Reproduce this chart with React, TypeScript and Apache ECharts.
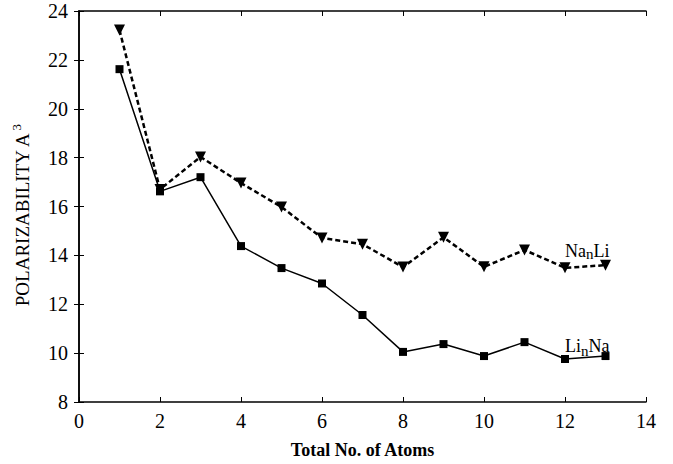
import React, { useEffect, useRef } from "react";
import * as echarts from "echarts";

const atoms = [1, 2, 3, 4, 5, 6, 7, 8, 9, 10, 11, 12, 13];
const naNLi = [23.22, 16.7, 18.03, 16.96, 15.98, 14.71, 14.46, 13.52, 14.74, 13.53, 14.22, 13.49, 13.6];
const liNNa = [21.62, 16.62, 17.2, 14.38, 13.48, 12.85, 11.56, 10.05, 10.37, 9.88, 10.45, 9.76, 9.88];
const xTicks = { min: 0, max: 14, interval: 2 };
const yTicks = { min: 8, max: 24, interval: 2 };

const FONT = "Liberation Serif";

export default function App() {
  const ref = useRef<HTMLDivElement>(null);
  useEffect(() => {
    document.body.style.margin = "0";
    const chart = echarts.init(ref.current!, null, { renderer: "svg" });
    const axisLine = { show: true, lineStyle: { color: "#000", width: 1.5 } };
    const tick = { show: true, inside: true, length: 5, lineStyle: { color: "#000", width: 1 } };
    chart.setOption({
      animation: false,
      backgroundColor: "#fff",
      grid: { left: 79, right: 27, top: 11, bottom: 62, containLabel: false },
      xAxis: [
        {
          type: "value",
          ...xTicks,
          position: "bottom",
          axisLine,
          axisTick: tick,
          splitLine: { show: false },
          axisLabel: { color: "#000", fontFamily: FONT, fontSize: 20, margin: 9 },
          name: "Total No. of Atoms",
          nameLocation: "middle",
          nameGap: 39,
          nameTextStyle: { color: "#000", fontFamily: FONT, fontSize: 18, fontWeight: "bold" },
        },
        {
          type: "value",
          ...xTicks,
          position: "top",
          axisLine,
          axisTick: tick,
          splitLine: { show: false },
          axisLabel: { show: false },
        },
      ],
      yAxis: [
        {
          type: "value",
          ...yTicks,
          position: "left",
          axisLine,
          axisTick: tick,
          splitLine: { show: false },
          axisLabel: { color: "#000", fontFamily: FONT, fontSize: 20, margin: 11 },
          name: "POLARIZABILITY A{sup|3}",
          nameLocation: "middle",
          nameGap: 44,
          nameRotate: 90,
          nameTextStyle: {
            color: "#000",
            fontFamily: FONT,
            fontSize: 19,
            padding: [0, 18, 0, 0],
            rich: { sup: { fontSize: 13, fontFamily: FONT, color: "#000", verticalAlign: "top", padding: [0, 0, 12, 2] } },
          },
        },
        {
          type: "value",
          ...yTicks,
          position: "right",
          axisLine,
          axisTick: tick,
          splitLine: { show: false },
          axisLabel: { show: false },
        },
      ],
      series: [
        {
          name: "NanLi",
          type: "line",
          data: atoms.map((a, i) => [a, naNLi[i]]),
          symbol: "triangle",
          symbolRotate: 180,
          symbolSize: 11,
          itemStyle: { color: "#000" },
          lineStyle: { color: "#000", width: 2.5, type: [5, 3] },
        },
        {
          name: "LinNa",
          type: "line",
          data: atoms.map((a, i) => [a, liNNa[i]]),
          symbol: "rect",
          symbolSize: 8,
          itemStyle: { color: "#000" },
          lineStyle: { color: "#000", width: 1.5 },
        },
      ],
      graphic: [
        {
          type: "text",
          left: 565,
          top: 242,
          style: {
            text: "Na{s|n}Li",
            fill: "#000",
            font: `18px '${FONT}'`,
            rich: { s: { fontSize: 15, fontFamily: FONT, fill: "#000", padding: [6, 0, 0, 0] } },
          },
        },
        {
          type: "text",
          left: 565,
          top: 337,
          style: {
            text: "Li{s|n}Na",
            fill: "#000",
            font: `18px '${FONT}'`,
            rich: { s: { fontSize: 15, fontFamily: FONT, fill: "#000", padding: [9, 0, 0, 0] } },
          },
        },
      ],
    });
    return () => chart.dispose();
  }, []);
  return <div ref={ref} style={{ position: "fixed", left: 0, top: 0, width: 673, height: 464 }} />;
}
